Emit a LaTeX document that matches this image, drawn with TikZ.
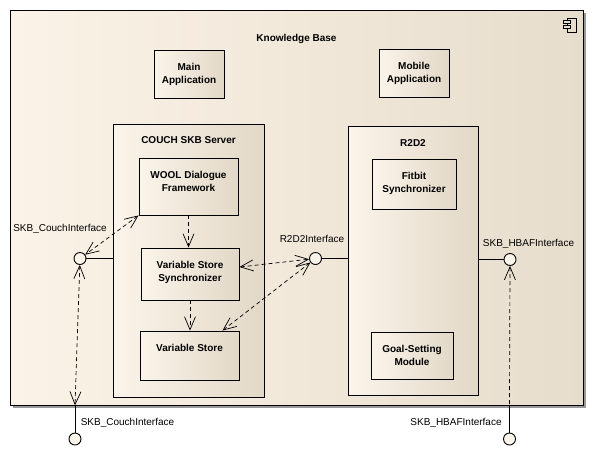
\documentclass[tikz,border=0pt]{standalone}
\usepackage{fontspec}
\setmainfont{Liberation Sans}
\usepackage{tikz}
\usetikzlibrary{calc, arrows.meta, positioning, shadows}

\definecolor{kbLight}{RGB}{251,243,231}
\definecolor{kbDark}{RGB}{231,221,205}
\definecolor{boxLight}{RGB}{251,244,234}
\definecolor{boxDark}{RGB}{226,216,199}

\begin{document}
\begin{tikzpicture}[
            x=1pt, y=-1pt,
            >={Straight Barb[length=13pt, width=11pt]},
            kbframe/.style={draw, line width=0.9pt, left color=kbLight, right color=kbDark, inner sep=0pt},
            component/.style={kbframe, left color=boxLight, right color=boxDark},
            boxtitle/.style={font=\bfseries\fontsize{10}{13}\selectfont, align=center, inner sep=0pt},
            iface/.style={draw, circle, line width=0.9pt, fill=boxLight, minimum size=12pt, inner sep=0pt},
            iface label/.style={font=\fontsize{10}{12}\selectfont, inner sep=0pt, anchor=base},
            dependency/.style={dash pattern=on 4pt off 3pt, line width=0.7pt}
        ]

            \useasboundingbox (0,0) rectangle (593,456);

            % knowledge base frame
            \node[kbframe, minimum width=573pt, minimum height=395pt,
                  drop shadow={shadow xshift=3pt, shadow yshift=-3pt, fill=black!40, opacity=1}] (kb) at (296.5,207.5) {};
            \node[boxtitle, below=24pt of kb.north] (kb-t) {Knowledge Base};

            \draw[line width=0.7pt, fill=kbDark] (567,18) rectangle (576,32);
            \draw[line width=0.7pt, fill=kbDark] (563.5,20.5) rectangle (570,23.5);
            \draw[line width=0.7pt, fill=kbDark] (563.5,25.5) rectangle (570,28.5);

            \node[component, minimum width=70pt, minimum height=48pt] (mainapp) at (189,74) {};
            \node[boxtitle, below=13pt of mainapp.north] (mainapp-t) {Main\\Application};
            \node[component, minimum width=70pt, minimum height=48pt] (mobileapp) at (414,73) {};
            \node[boxtitle, below=13pt of mobileapp.north] (mobileapp-t) {Mobile\\Application};

            % couch server and its parts
            \node[component, minimum width=151pt, minimum height=273pt] (couch) at (188.5,260.5) {};
            \node[boxtitle, below=13pt of couch.north] (couch-t) {COUCH SKB Server};
            \node[component, minimum width=99pt, minimum height=57pt] (wool) at (188.5,186.5) {};
            \node[boxtitle, below=13pt of wool.north] (wool-t) {WOOL Dialogue\\Framework};
            \node[component, minimum width=98pt, minimum height=52pt] (vss) at (190,274) {};
            \node[boxtitle, below=13pt of vss.north] (vss-t) {Variable Store\\Synchronizer};
            \node[component, minimum width=99pt, minimum height=49pt] (vstore) at (189.5,355.5) {};
            \node[boxtitle, below=13pt of vstore.north] (vstore-t) {Variable Store};

            % r2d2 and its parts
            \node[component, minimum width=130pt, minimum height=269pt] (r2d2) at (413,260.5) {};
            \node[boxtitle, below=14pt of r2d2.north] (r2d2-t) {R2D2};
            \node[component, minimum width=84pt, minimum height=50pt] (fitbit) at (414,184) {};
            \node[boxtitle, below=13pt of fitbit.north] (fitbit-t) {Fitbit\\Synchronizer};
            \node[component, minimum width=82pt, minimum height=47pt] (goal) at (412,355.5) {};
            \node[boxtitle, below=13pt of goal.north] (goal-t) {Goal-Setting\\Module};

            % interfaces
            \node[iface] (couchif) at (80,258.5) {};
            \node[iface] (r2d2if) at (315.5,258.5) {};
            \node[iface] (hbafif) at (510,259.5) {};
            \node[iface] (couchext) at (75,439) {};
            \node[iface] (hbafext) at (509.5,439) {};
            \coordinate (couchgate) at (couchext |- kb.south);
            \coordinate (hbafgate) at (hbafext |- kb.south);

            \draw[line width=0.9pt] (couchif) -- (couchif -| couch.west);
            \draw[line width=0.9pt] (r2d2if) -- (r2d2if -| r2d2.west);
            \draw[line width=0.9pt] (hbafif) -- (hbafif -| r2d2.east);
            \draw[line width=0.9pt] (couchgate) -- (couchext);
            \draw[line width=0.9pt] (hbafgate) -- (hbafext);

            \draw[dependency, <->] (wool.south west) -- (couchif);
            \draw[dependency, ->] (wool.south) -- (wool.south |- vss.north);
            \draw[dependency, ->] (vss.south) -- (vss.south |- vstore.north);
            \draw[dependency, <->] ($(vss.east)+(0,-7)$) -- (r2d2if);
            \draw[dependency, <->] ($(vstore.north east)+(-17,0)$) -- (r2d2if);
            \draw[dependency, <->] (couchif) -- (couchgate);
            \draw[dependency, <-] (hbafif) -- (hbafgate);

            \node[iface label] (couchif-l) at (60,231) {SKB\_CouchInterface};
            \node[iface label] (r2d2if-l) at (312,242) {R2D2Interface};
            \node[iface label] (hbafif-l) at (528.5,246.5) {SKB\_HBAFInterface};
            \node[iface label] (couchext-l) at (127.5,425.5) {SKB\_CouchInterface};
            \node[iface label] (hbafext-l) at (456,425.5) {SKB\_HBAFInterface};

        \end{tikzpicture}
\end{document}
